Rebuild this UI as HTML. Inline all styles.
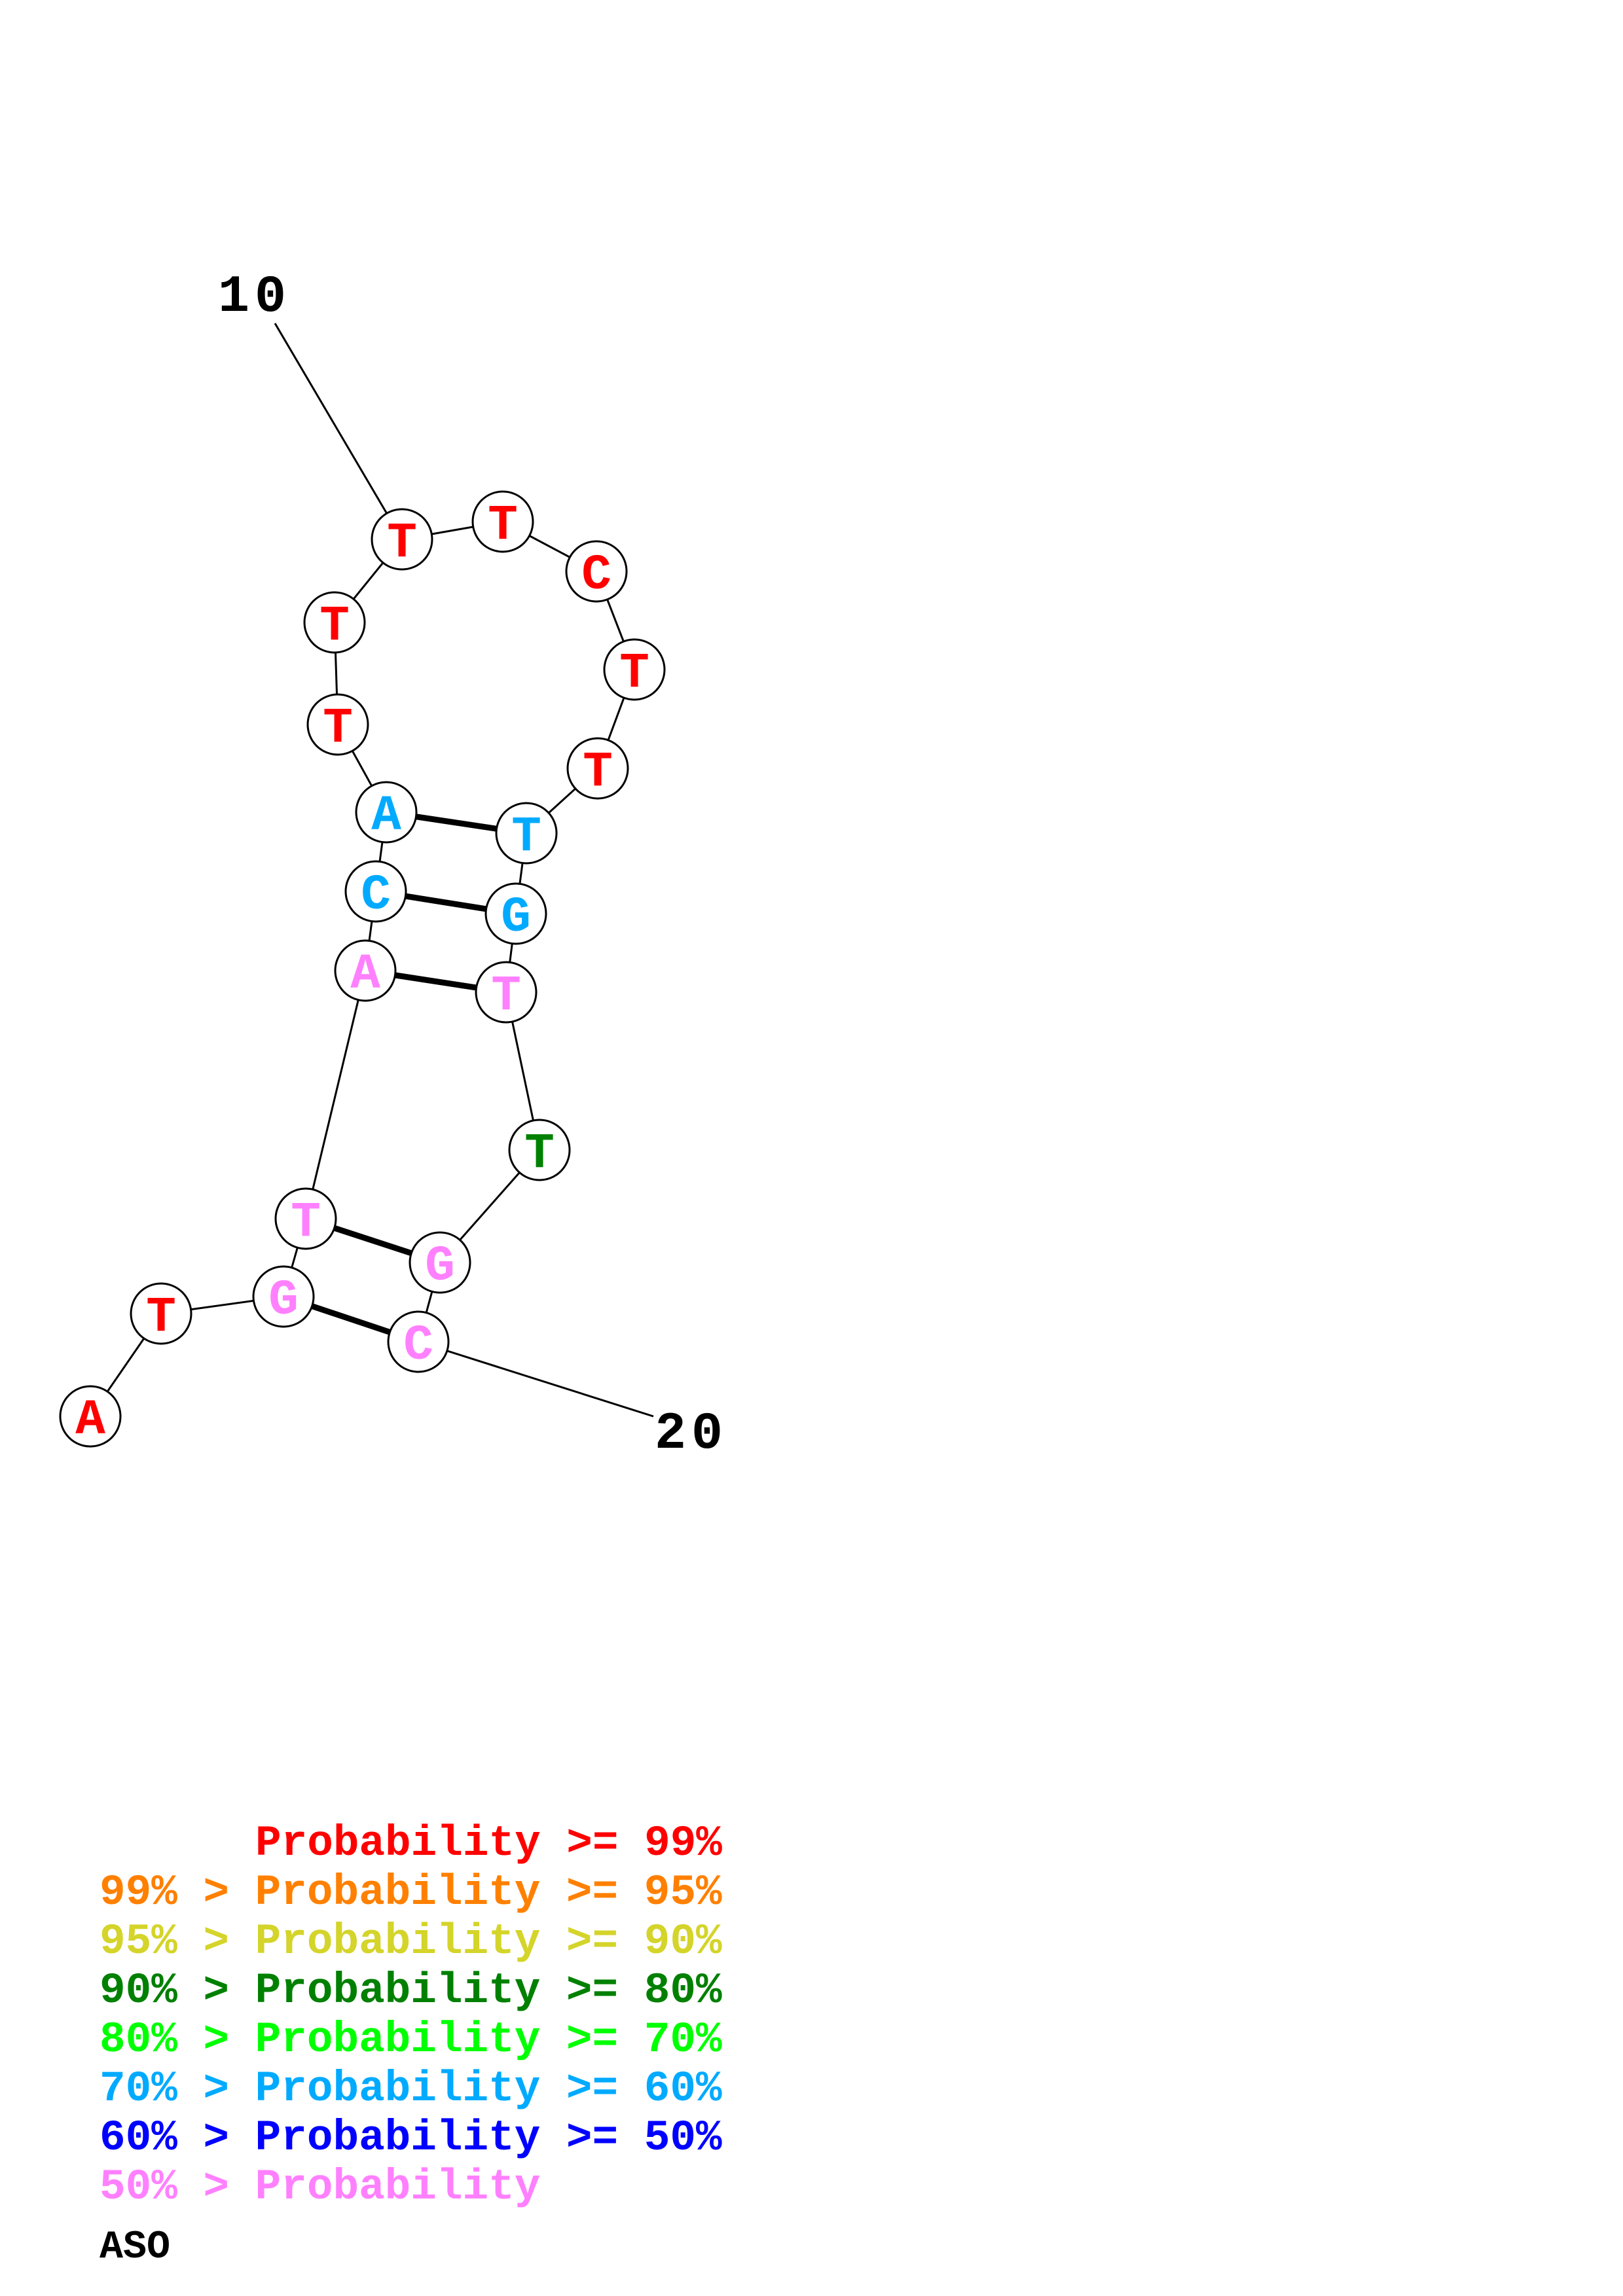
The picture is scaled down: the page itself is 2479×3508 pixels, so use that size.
<!DOCTYPE html>
<html><head><meta charset="utf-8"><style>
html,body{margin:0;padding:0;background:#fff;}
svg{display:block;}
text{font-family:"Liberation Mono",monospace;font-weight:bold;}
</style></head><body>
<svg width="2479" height="3508" viewBox="0 0 2479 3508" xmlns="http://www.w3.org/2000/svg">
<g stroke="#000" stroke-width="3" fill="none">
<line x1="420" y1="494" x2="614" y2="824"/>
<line x1="639" y1="2050" x2="998" y2="2164"/>
<polyline points="138,2164 246,2007 433,1981 467,1862 558,1483 574,1362 590,1241 516,1107 511,951 614,824 768,797 911,873 969,1023 913,1174 804,1273 788,1396 773,1516 824,1757 672,1929 639,2050"/>
</g>
<g stroke="#000" stroke-width="9">
<line x1="590" y1="1241" x2="804" y2="1273"/>
<line x1="574" y1="1362" x2="788" y2="1396"/>
<line x1="558" y1="1483" x2="773" y2="1516"/>
<line x1="467" y1="1862" x2="672" y2="1929"/>
<line x1="433" y1="1981" x2="639" y2="2050"/>
</g>
<g stroke="#000" stroke-width="3" fill="#fff">
<circle cx="138" cy="2164" r="46"/><circle cx="246" cy="2007" r="46"/><circle cx="433" cy="1981" r="46"/>
<circle cx="467" cy="1862" r="46"/><circle cx="558" cy="1483" r="46"/><circle cx="574" cy="1362" r="46"/>
<circle cx="590" cy="1241" r="46"/><circle cx="516" cy="1107" r="46"/><circle cx="511" cy="951" r="46"/>
<circle cx="614" cy="824" r="46"/><circle cx="768" cy="797" r="46"/><circle cx="911" cy="873" r="46"/>
<circle cx="969" cy="1023" r="46"/><circle cx="913" cy="1174" r="46"/><circle cx="804" cy="1273" r="46"/>
<circle cx="788" cy="1396" r="46"/><circle cx="773" cy="1516" r="46"/><circle cx="824" cy="1757" r="46"/>
<circle cx="672" cy="1929" r="46"/><circle cx="639" cy="2050" r="46"/>
</g>
<g font-size="76" text-anchor="middle">
<text x="138" y="2190" fill="#ff0000">A</text>
<text x="246" y="2033" fill="#ff0000">T</text>
<text x="433" y="2007" fill="#ff80ff">G</text>
<text x="467" y="1888" fill="#ff80ff">T</text>
<text x="558" y="1509" fill="#ff80ff">A</text>
<text x="574" y="1388" fill="#00aaff">C</text>
<text x="590" y="1267" fill="#00aaff">A</text>
<text x="516" y="1133" fill="#ff0000">T</text>
<text x="511" y="977" fill="#ff0000">T</text>
<text x="614" y="850" fill="#ff0000">T</text>
<text x="768" y="823" fill="#ff0000">T</text>
<text x="911" y="899" fill="#ff0000">C</text>
<text x="969" y="1049" fill="#ff0000">T</text>
<text x="913" y="1200" fill="#ff0000">T</text>
<text x="804" y="1299" fill="#00aaff">T</text>
<text x="788" y="1422" fill="#00aaff">G</text>
<text x="773" y="1542" fill="#ff80ff">T</text>
<text x="824" y="1783" fill="#008000">T</text>
<text x="672" y="1955" fill="#ff80ff">G</text>
<text x="639" y="2076" fill="#ff80ff">C</text>
</g>
<g font-size="80" fill="#000" letter-spacing="8">
<text x="333" y="475">10</text>
<text x="1000" y="2212">20</text>
</g>
<g font-size="66">
<text x="390" y="2834" fill="#ff0000">Probability &gt;= 99%</text>
<text x="152" y="2909" fill="#ff8000">99% &gt; Probability &gt;= 95%</text>
<text x="152" y="2984" fill="#d4d42a">95% &gt; Probability &gt;= 90%</text>
<text x="152" y="3059" fill="#008000">90% &gt; Probability &gt;= 80%</text>
<text x="152" y="3134" fill="#00ff00">80% &gt; Probability &gt;= 70%</text>
<text x="152" y="3209" fill="#00aaff">70% &gt; Probability &gt;= 60%</text>
<text x="152" y="3284" fill="#0000ff">60% &gt; Probability &gt;= 50%</text>
<text x="152" y="3359" fill="#ff80ff">50% &gt; Probability</text>
<text x="152" y="3449" fill="#000" font-size="60">ASO</text>
</g>
</svg>
</body></html>
